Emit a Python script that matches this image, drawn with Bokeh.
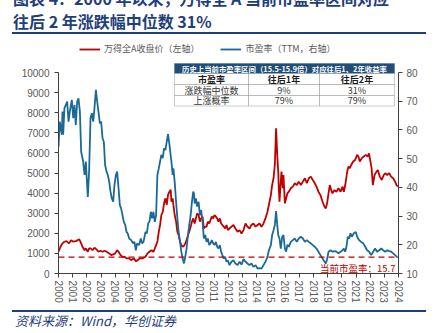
from bokeh.plotting import figure
from bokeh.layouts import column
from bokeh.models import (Range1d, LinearAxis, FixedTicker, Label, BoxAnnotation,
                          Legend, LegendItem, Div)
from bokeh.core.properties import value
from bokeh.embed import file_html
from bokeh.resources import INLINE

# ---------------- data ----------------
pe_years = [2000.00, 2000.09, 2000.24, 2000.28, 2000.33, 2000.42, 2000.52, 2000.61, 2000.71, 2000.80,
            2000.94, 2001.04, 2001.13, 2001.22, 2001.32, 2001.41, 2001.51, 2001.60, 2001.74, 2001.84,
            2001.93, 2002.02, 2002.07, 2002.16, 2002.26, 2002.35, 2002.45, 2002.54, 2002.64, 2002.73,
            2002.82, 2002.92, 2003.01, 2003.11, 2003.20, 2003.29, 2003.39, 2003.48, 2003.58, 2003.67,
            2003.76, 2003.86, 2003.95, 2004.05, 2004.14, 2004.24, 2004.33, 2004.42, 2004.52, 2004.61,
            2004.71, 2004.80, 2004.89, 2004.99, 2005.13, 2005.27, 2005.36, 2005.46, 2005.55, 2005.69,
            2005.81, 2005.90, 2006.00, 2006.14, 2006.23, 2006.33, 2006.42, 2006.52, 2006.61, 2006.70,
            2006.80, 2006.89, 2006.98, 2007.08, 2007.17, 2007.26, 2007.36, 2007.45, 2007.55, 2007.64,
            2007.73, 2007.83, 2007.92, 2007.97, 2008.06, 2008.11, 2008.20, 2008.30, 2008.39, 2008.48,
            2008.58, 2008.67, 2008.76, 2008.86, 2008.95, 2009.04, 2009.14, 2009.23, 2009.33, 2009.42,
            2009.51, 2009.56, 2009.61, 2009.70, 2009.79, 2009.89, 2009.98, 2010.07, 2010.17, 2010.26,
            2010.36, 2010.45, 2010.54, 2010.64, 2010.73, 2010.82, 2010.92, 2011.01, 2011.11, 2011.20,
            2011.29, 2011.39, 2011.48, 2011.57, 2011.67, 2011.76, 2011.86, 2011.95, 2012.07, 2012.21,
            2012.35, 2012.49, 2012.64, 2012.78, 2012.92, 2013.06, 2013.20, 2013.34, 2013.48, 2013.62,
            2013.76, 2013.91, 2014.05, 2014.19, 2014.33, 2014.47, 2014.61, 2014.75, 2014.85, 2014.99,
            2015.08, 2015.18, 2015.27, 2015.36, 2015.44, 2015.51, 2015.60, 2015.69, 2015.79, 2015.88,
            2015.98, 2016.07, 2016.16, 2016.26, 2016.40, 2016.54, 2016.68, 2016.82, 2016.96, 2017.11,
            2017.25, 2017.39, 2017.53, 2017.67, 2017.81, 2017.95, 2018.09, 2018.21, 2018.35, 2018.49,
            2018.64, 2018.78, 2018.87, 2018.96, 2019.06, 2019.20, 2019.34, 2019.48, 2019.62, 2019.76,
            2019.91, 2020.05, 2020.14, 2020.24, 2020.33, 2020.42, 2020.52, 2020.61, 2020.71, 2020.85,
            2020.99, 2021.08, 2021.22, 2021.36, 2021.51, 2021.65, 2021.79, 2021.93, 2022.07, 2022.21,
            2022.35, 2022.49, 2022.64, 2022.78, 2022.92, 2023.06, 2023.20, 2023.34, 2023.48, 2023.62,
            2023.76, 2023.91, 2023.95]
pe_values = [54.2, 62.9, 58.3, 66.4, 58.3, 67.6, 68.7, 69.9, 62.9, 66.4,
             70.5, 64.1, 68.7, 61.7, 69.9, 71.0, 66.4, 52.4, 49.0, 44.3,
             49.0, 40.8, 36.7, 45.5, 64.1, 65.8, 62.9, 67.6, 74.0, 69.9,
             66.4, 62.3, 62.9, 57.1, 55.9, 47.8, 45.5, 44.3, 42.0, 38.5,
             36.2, 35.0, 40.8, 44.3, 45.5, 39.7, 33.8, 32.7, 30.3, 28.0,
             26.9, 24.5, 23.9, 22.2, 21.6, 20.5, 21.0, 18.1, 20.5, 19.9,
             22.2, 20.5, 21.0, 24.5, 23.9, 27.4, 28.0, 31.5, 29.2, 31.5,
             28.0, 30.3, 44.3, 46.6, 49.0, 51.3, 50.2, 53.6, 53.0, 55.9,
             58.5, 55.0, 51.0, 49.0, 44.3, 46.6, 42.0, 35.0, 29.2, 24.5,
             21.0, 17.6, 15.2, 13.5, 15.8, 18.7, 23.4, 26.9, 30.3, 35.0,
             38.5, 37.9, 34.4, 36.2, 33.3, 35.0, 30.3, 32.1, 28.0, 22.2,
             23.4, 21.0, 22.2, 19.9, 20.5, 21.6, 20.5, 19.9, 21.0, 19.3,
             18.7, 19.9, 17.6, 16.4, 15.2, 15.8, 14.1, 14.6, 12.9, 14.1,
             14.6, 13.5, 12.9, 14.1, 13.1, 15.0, 14.1, 13.5, 12.9, 13.5,
             12.3, 12.9, 11.7, 11.9, 11.7, 12.9, 14.1, 15.8, 18.1, 19.9,
             23.4, 25.1, 26.9, 31.7, 26.9, 23.4, 22.2, 18.7, 22.8, 23.4,
             18.7, 17.6, 20.0, 19.3, 21.0, 21.6, 22.2, 21.0, 22.2, 22.8,
             22.2, 21.0, 21.6, 21.0, 20.5, 19.9, 19.3, 18.7, 17.6, 16.4,
             15.2, 14.1, 13.5, 15.0, 17.6, 18.1, 17.6, 17.8, 17.6, 17.0,
             17.6, 18.1, 18.7, 17.6, 19.5, 22.8, 22.2, 24.0, 22.8, 24.0,
             24.5, 22.8, 21.6, 21.0, 20.5, 19.3, 18.1, 17.6, 16.4, 17.6,
             18.7, 17.6, 18.1, 18.7, 18.1, 17.6, 18.1, 17.8, 17.6, 17.0,
             16.4, 15.7, 15.7]

idx_years = [2000.00, 2000.14, 2000.28, 2000.42, 2000.56, 2000.75, 2000.89, 2001.04, 2001.22, 2001.36,
             2001.46, 2001.60, 2001.69, 2001.84, 2001.93, 2002.07, 2002.16, 2002.26, 2002.40, 2002.54,
             2002.68, 2002.82, 2002.96, 2003.11, 2003.25, 2003.39, 2003.58, 2003.72, 2003.86, 2004.00,
             2004.14, 2004.24, 2004.38, 2004.52, 2004.66, 2004.80, 2004.99, 2005.13, 2005.32, 2005.46,
             2005.60, 2005.74, 2005.93, 2006.00, 2006.14, 2006.28, 2006.42, 2006.56, 2006.70, 2006.80,
             2006.89, 2006.98, 2007.08, 2007.17, 2007.26, 2007.36, 2007.45, 2007.55, 2007.64, 2007.73,
             2007.83, 2007.92, 2007.97, 2008.06, 2008.11, 2008.20, 2008.30, 2008.39, 2008.48, 2008.58,
             2008.67, 2008.76, 2008.86, 2008.95, 2009.04, 2009.14, 2009.23, 2009.33, 2009.42, 2009.51,
             2009.61, 2009.70, 2009.79, 2009.89, 2009.98, 2010.07, 2010.17, 2010.26, 2010.36, 2010.45,
             2010.54, 2010.64, 2010.73, 2010.82, 2010.92, 2011.01, 2011.11, 2011.20, 2011.29, 2011.39,
             2011.48, 2011.57, 2011.67, 2011.76, 2011.86, 2011.95, 2012.07, 2012.21, 2012.35, 2012.49,
             2012.64, 2012.78, 2012.92, 2013.06, 2013.20, 2013.34, 2013.48, 2013.62, 2013.76, 2013.91,
             2014.05, 2014.19, 2014.33, 2014.47, 2014.61, 2014.75, 2014.85, 2014.99, 2015.08, 2015.18,
             2015.27, 2015.36, 2015.44, 2015.51, 2015.55, 2015.60, 2015.69, 2015.74, 2015.83, 2015.88,
             2015.98, 2016.07, 2016.16, 2016.26, 2016.40, 2016.54, 2016.68, 2016.82, 2016.96, 2017.11,
             2017.25, 2017.39, 2017.53, 2017.67, 2017.81, 2017.95, 2018.09, 2018.21, 2018.35, 2018.49,
             2018.64, 2018.78, 2018.87, 2018.96, 2019.06, 2019.15, 2019.25, 2019.34, 2019.48, 2019.62,
             2019.76, 2019.91, 2020.05, 2020.14, 2020.24, 2020.38, 2020.47, 2020.57, 2020.66, 2020.80,
             2020.94, 2021.08, 2021.17, 2021.27, 2021.41, 2021.55, 2021.69, 2021.83, 2021.91, 2022.00,
             2022.10, 2022.19, 2022.31, 2022.45, 2022.54, 2022.68, 2022.82, 2022.96, 2023.06, 2023.20,
             2023.34, 2023.48, 2023.62, 2023.76, 2023.86, 2023.95]
idx_values = [1080, 1330, 1500, 1580, 1610, 1500, 1660, 1580, 1610, 1660,
              1710, 1500, 1330, 1160, 1250, 1080, 1250, 1250, 1160, 1280,
              1200, 1080, 1130, 1080, 1130, 1080, 1000, 914, 950, 1000,
              1160, 1080, 914, 830, 830, 750, 750, 665, 750, 615,
              665, 750, 750, 780, 830, 1000, 1080, 1160, 1080, 1250,
              1410, 1580, 2080, 2410, 2910, 3070, 3490, 3740, 3410, 3900,
              4070, 4160, 3570, 3740, 3410, 2910, 2580, 2080, 1910, 1580,
              1410, 1330, 1380, 1500, 1660, 1910, 2080, 2330, 2580, 2740,
              2490, 2740, 2990, 2910, 2580, 2740, 2830, 2240, 2330, 2330,
              2580, 2490, 2660, 2830, 2740, 2910, 2830, 2740, 2580, 2740,
              2490, 2410, 2330, 2240, 2410, 2160, 2240, 2330, 2410, 2240,
              2080, 2160, 1990, 2160, 2490, 2330, 2240, 2410, 2490, 2330,
              2410, 2490, 2330, 2490, 2740, 3070, 3410, 3900, 4400, 4740,
              5400, 7230, 5900, 5070, 4240, 3570, 4570, 5070, 4240, 4900,
              3490, 3740, 3990, 4070, 4240, 4320, 4490, 4400, 4570, 4400,
              4570, 4740, 4490, 4740, 4820, 4650, 4490, 4320, 4070, 3900,
              3570, 3320, 3240, 3490, 3990, 4400, 4150, 3990, 4150, 4070,
              4240, 4070, 4320, 4070, 4400, 5070, 5320, 5240, 5400, 5570,
              5650, 5900, 5820, 5570, 5740, 5820, 5900, 5820, 5980, 5650,
              5240, 4400, 4900, 5070, 5150, 4820, 4650, 4900, 4990, 4900,
              4990, 4820, 4740, 4570, 4400, 4320]

current_pe = 15.7
year_ticks = list(range(2000, 2025))
left_ticks = list(range(0, 10001, 1000))
right_ticks = list(range(10, 81, 10))

title_line1 = "图表 4：2000 年以来，万得全 A 当前市盈率区间对应"
title_line2 = "往后 2 年涨跌幅中位数 31%"
source_text = "资料来源：Wind，华创证券"
table_header = "历史上当前市盈率区间（15.5-15.9倍）对应往后1、2年收益率"
table_rows = [["市盈率", "往后1年", "往后2年"],
              ["涨跌幅中位数", "9%", "31%"],
              ["上涨概率", "79%", "79%"]]

RED = "#C00000"
BLUE = "#1B6A96"
NAVY = "#1F3E7C"
GREY = "#595959"
CJK = "Noto Sans CJK SC"

# ---------------- geometry (absolute page pixels) ----------------
TOP_H = 36          # title block height
BOT_H = 23          # source block height
FIG_H = 333 - TOP_H - BOT_H
FL, FR = 58, 398    # frame left/right
FT = 40             # frame top (frame extends above the axis end so table/legend fit)
AXT, FB = 72, 273   # y pixel of left 10000 / right 80, and of 0 / 10
X0, X1 = 2000, 2024
PER_PX_L = 10000 / (FB - AXT)
PER_PX_R = 70 / (FB - AXT)


def dx(px):
    return X0 + (px - FL) * (X1 - X0) / (FR - FL)


def dy(py):
    return (FB - py) * PER_PX_L


p = figure(width=437, height=FIG_H, output_backend="svg", toolbar_location=None,
           x_range=Range1d(X0, X1), y_range=Range1d(0, (FB - FT) * PER_PX_L),
           min_border_left=FL, min_border_right=437 - FR,
           min_border_top=FT - TOP_H, min_border_bottom=TOP_H + FIG_H - FB)
p.title.visible = False
p.outline_line_color = None
p.xgrid.visible = False
p.ygrid.visible = False
p.background_fill_color = "white"
p.border_fill_color = "white"

p.extra_y_ranges = {"pe": Range1d(10, 10 + (FB - FT) * PER_PX_R)}

AX = "#404040"


def style_axis(ax, size="10px"):
    ax.axis_line_color = AX
    ax.major_tick_line_color = AX
    ax.minor_tick_line_color = None
    ax.major_tick_out = 4
    ax.major_tick_in = 0
    ax.major_label_text_color = GREY
    ax.major_label_text_font = "Liberation Sans"
    ax.major_label_text_font_size = size


xa = p.xaxis[0]
xa.ticker = FixedTicker(ticks=year_ticks)
xa.major_label_orientation = "vertical"
xa.major_label_standoff = 3
style_axis(xa)

ya = p.yaxis[0]
ya.ticker = FixedTicker(ticks=left_ticks)
ya.bounds = (left_ticks[0], left_ticks[-1])
ya.major_label_standoff = 5
style_axis(ya)

ra = LinearAxis(y_range_name="pe", ticker=FixedTicker(ticks=right_ticks),
                bounds=(right_ticks[0], right_ticks[-1]))
ra.major_label_standoff = 4
style_axis(ra)
p.add_layout(ra, "right")

r_idx = p.line(idx_years, idx_values, line_color=RED, line_width=1.8)
r_pe = p.line(pe_years, pe_values, y_range_name="pe", line_color=BLUE, line_width=1.8)
p.line([X0, X1], [current_pe, current_pe], y_range_name="pe",
       line_color=RED, line_width=1.3, line_dash="6 4")

p.add_layout(Label(x=dx(395), y=dy(267.5), text="当前市盈率：%.1f" % current_pe,
                   text_align="right", text_baseline="middle", text_color=RED,
                   text_font=CJK, text_font_size="9.5px"))

# legend inside the (extended) frame, above the axis tops
legend = Legend(items=[LegendItem(label=value("万得全A收盘价（左轴）"), renderers=[r_idx]),
                       LegendItem(label=value("市盈率（TTM，右轴）"), renderers=[r_pe])],
                orientation="horizontal", location=(79 - FL, FB - 55),
                border_line_color=None, background_fill_alpha=0, padding=0, margin=0,
                spacing=21, glyph_width=21, glyph_height=10, label_height=10,
                label_standoff=4, label_text_font_size="9px", label_text_color=GREY,
                label_text_font=CJK)
p.add_layout(legend)

# table
TL, TR = 174, 394
cols = [174, 248, 319, 394]
rows = [73, 84, 95, 105.5]
p.add_layout(BoxAnnotation(left=dx(TL), right=dx(TR), top=dy(63), bottom=dy(73),
                           fill_color="#1F4E79", fill_alpha=1, line_color="#1F4E79",
                           line_width=1))
p.add_layout(Label(x=dx((TL + TR) / 2), y=dy(68), text=table_header, text_align="center",
                   text_baseline="middle", text_color="white", text_font=CJK,
                   text_font_size="7.4px", text_font_style="bold"))
for ri in range(3):
    for ci in range(3):
        p.add_layout(BoxAnnotation(left=dx(cols[ci]), right=dx(cols[ci + 1]),
                                   top=dy(rows[ri]), bottom=dy(rows[ri + 1]),
                                   fill_color="white", fill_alpha=1,
                                   line_color="#5a5a5a", line_width=1))
        p.add_layout(Label(x=dx((cols[ci] + cols[ci + 1]) / 2),
                           y=dy((rows[ri] + rows[ri + 1]) / 2),
                           text=table_rows[ri][ci], text_align="center", text_baseline="middle",
                           text_color="#1a1a1a" if ri == 0 else "#333333",
                           text_font=CJK, text_font_size="9px",
                           text_font_style="bold" if ri == 0 else "normal"))

# ---------------- title and source blocks ----------------
font_css = "font-family:'Noto Sans CJK SC';color:%s;" % NAVY
top_html = (
    '<div style="position:relative;width:437px;height:%dpx;overflow:hidden;background:white;">'
    '<div style="position:absolute;left:13px;top:-10px;white-space:nowrap;font-size:16px;'
    'line-height:16px;font-weight:bold;%s">%s</div>'
    '<div style="position:absolute;left:13px;top:13px;white-space:nowrap;font-size:16px;'
    'line-height:16px;font-weight:bold;%s">%s</div>'
    '<div style="position:absolute;left:12px;top:32px;width:414px;height:2px;background:%s;"></div>'
    '</div>' % (TOP_H, font_css, title_line1, font_css, title_line2, NAVY)
)
bot_html = (
    '<div style="position:relative;width:437px;height:%dpx;overflow:hidden;background:white;">'
    '<div style="position:absolute;left:12px;top:0px;width:414px;height:2px;background:%s;"></div>'
    '<div style="position:absolute;left:15px;top:4px;white-space:nowrap;font-size:13px;'
    'line-height:14px;font-style:italic;%s">%s</div>'
    '</div>' % (BOT_H, NAVY, font_css, source_text)
)
top_div = Div(text=top_html, width=437, height=TOP_H, styles={"margin": "0", "padding": "0"})
bot_div = Div(text=bot_html, width=437, height=BOT_H, styles={"margin": "0", "padding": "0"})

layout = column(top_div, p, bot_div, spacing=0)

open("out.html", "w").write(file_html(layout, INLINE))
